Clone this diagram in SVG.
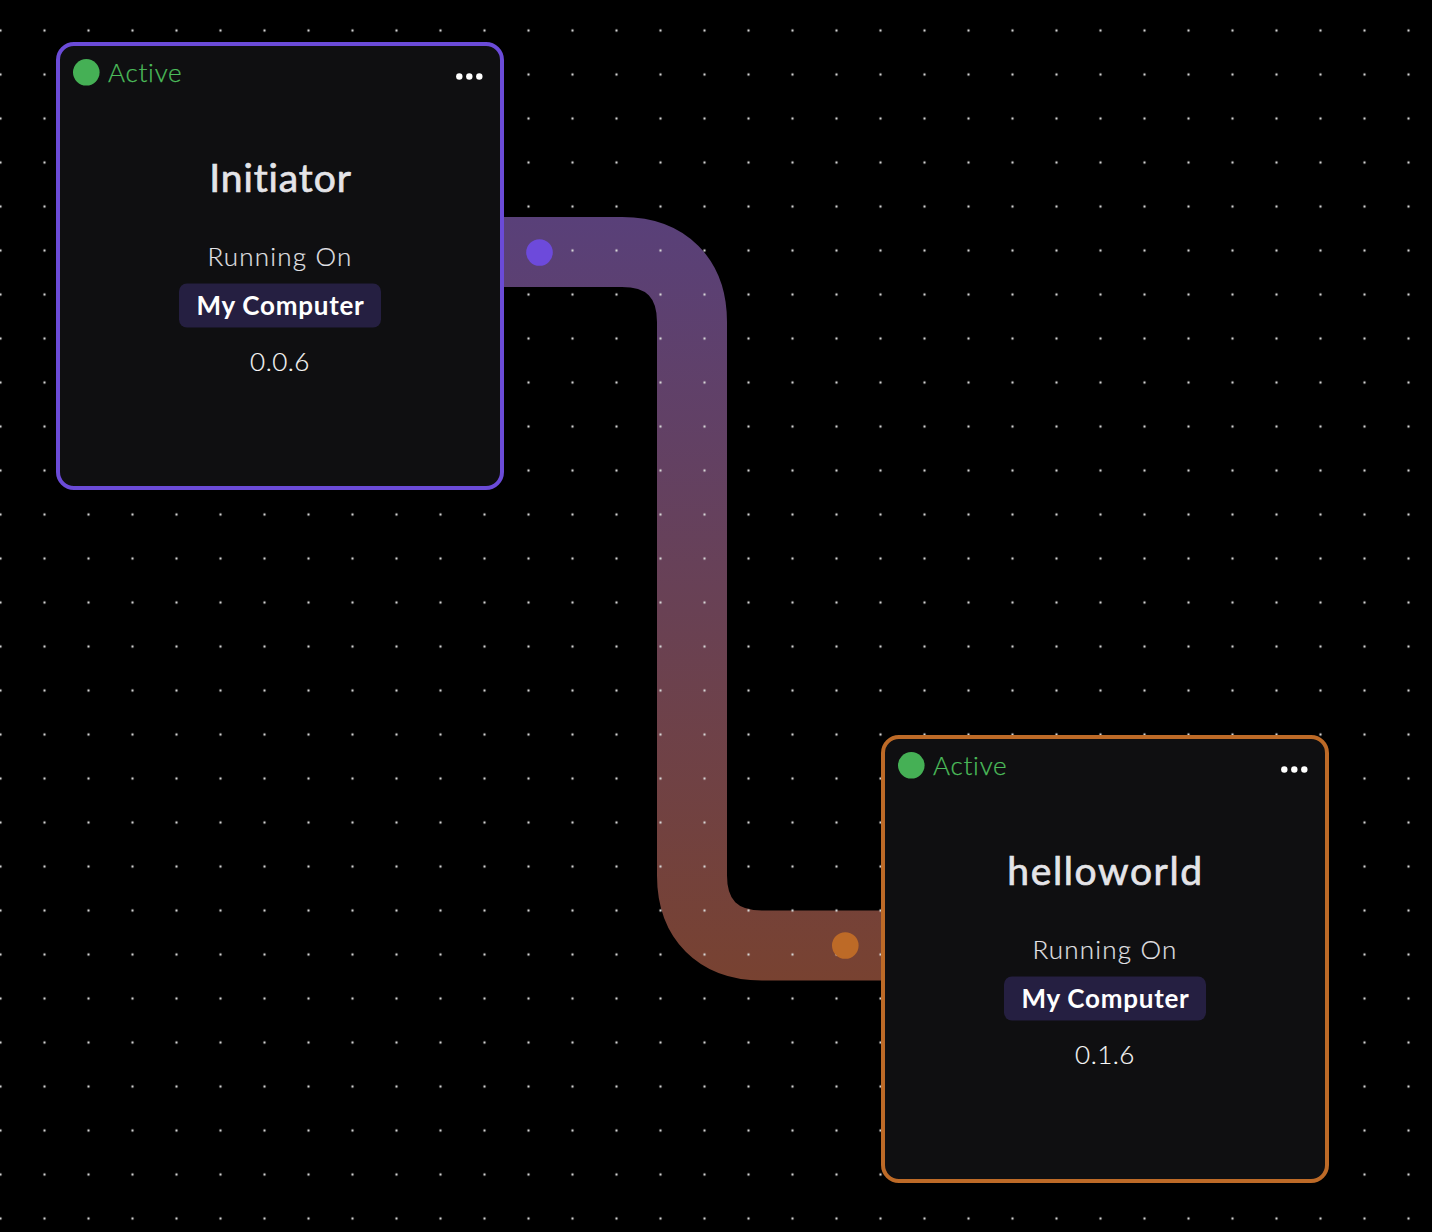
<svg xmlns="http://www.w3.org/2000/svg" width="1432" height="1232" viewBox="0 0 1432 1232">
<style>
text{font-family:"Lato","Open Sans",sans-serif;text-anchor:middle;font-variant-ligatures:none}
.card{fill:#0f0f11;stroke-width:4}
.status{fill:#4cbd5b;stroke:#4cbd5b;stroke-width:.25px;font-size:26px;font-weight:300;text-anchor:start;letter-spacing:.75px}
.title{fill:#e4e4e8;stroke:#e4e4e8;stroke-width:.7px;font-size:39px;font-weight:400}
.run{fill:#e2e2e6;stroke:#e2e2e6;stroke-width:.15px;font-size:26px;font-weight:300;letter-spacing:1.2px}
.chip{fill:#251f41}
.host{fill:#fff;font-size:26px;font-weight:700;letter-spacing:.75px}
.ver{fill:#f8f8f8;stroke:#f8f8f8;stroke-width:.15px;font-size:26px;font-weight:300;letter-spacing:.5px}
</style>
<defs>
<pattern id="dots" width="44" height="44" patternUnits="userSpaceOnUse" x="-21.5" y="8.5">
<circle cx="22" cy="22" r="1.2" fill="#d8d8d8"/>
</pattern>
<linearGradient id="ribbon" gradientUnits="userSpaceOnUse" x1="0" y1="217" x2="0" y2="980">
<stop offset="0" stop-color="#594079"/><stop offset="1" stop-color="#784231"/>
</linearGradient>
<g id="more"><circle cx="0" cy="0" r="3.2" fill="#fff"/><circle cx="10" cy="0" r="3.2" fill="#fff"/><circle cx="20" cy="0" r="3.2" fill="#fff"/></g>
</defs>
<rect width="1432" height="1232" fill="#000"/>
<g id="connectors">
<path d="M500 252H622C666 252 692 278 692 322V875.500C692 919.500 718 945.500 762 945.500H885" fill="none" stroke="url(#ribbon)" stroke-width="70"/>
</g>
<rect id="grid" width="1432" height="1232" fill="url(#dots)"/>
<circle id="port-out" cx="539.500" cy="252.500" r="13.300" fill="#6d4adb"/>
<circle id="port-in" cx="845.300" cy="945.500" r="13.300" fill="#bd6a27"/>
<g id="node-initiator">
<rect class="card" x="58" y="44" width="444" height="444" rx="16" stroke="#6b4bd8"/>
<circle cx="86.300" cy="72.300" r="13.300" fill="#45b055"/>
<text class="status" x="108" y="82">Active</text>
<use href="#more" x="459.300" y="76.500"/>
<text class="title" x="280.500" y="192" letter-spacing=".9">Initiator</text>
<text class="run" x="280" y="266">Running On</text>
<rect class="chip" x="179" y="283.500" width="202" height="44" rx="8"/>
<text class="host" x="280.500" y="315">My Computer</text>
<text class="ver" x="280" y="371">0.0.6</text>
</g>
<g id="node-helloworld">
<rect class="card" x="883" y="737" width="444" height="444" rx="16" stroke="#bd6a27"/>
<circle cx="911.300" cy="765.300" r="13.300" fill="#45b055"/>
<text class="status" x="933" y="775">Active</text>
<use href="#more" x="1284.300" y="769.500"/>
<text class="title" x="1105.500" y="885" letter-spacing="1.6">helloworld</text>
<text class="run" x="1105" y="959">Running On</text>
<rect class="chip" x="1004" y="976.500" width="202" height="44" rx="8"/>
<text class="host" x="1105.500" y="1008">My Computer</text>
<text class="ver" x="1105" y="1064">0.1.6</text>
</g>
</svg>
